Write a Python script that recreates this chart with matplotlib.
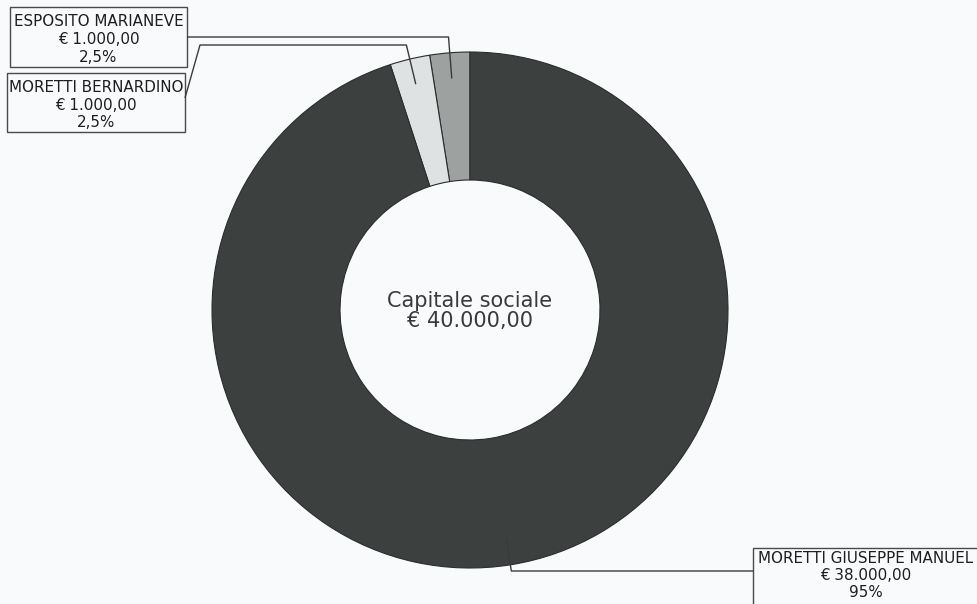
import numpy as np
import matplotlib
matplotlib.use("Agg")
import matplotlib.pyplot as plt
from matplotlib.patches import Rectangle

# ---- data ----
names = ["ESPOSITO MARIANEVE", "MORETTI BERNARDINO", "MORETTI GIUSEPPE MANUEL"]
amounts = [1000.0, 1000.0, 38000.0]
colors = ["#9da2a0", "#dfe2e3", "#3c413f"]
center_title = "Capitale sociale"

def eur(v):
    s = f"{v:,.2f}"
    s = s.replace(",", "X").replace(".", ",").replace("X", ".")
    return "\u20ac " + s

def pct(v):
    return f"{v:g}".replace(".", ",") + "%"

total = sum(amounts)
percents = [a / total * 100 for a in amounts]

# ---- layout (pixel units) ----
W, H = 977, 604
fig = plt.figure(figsize=(W / 100, H / 100), dpi=100)
fig.patch.set_facecolor("#f9fafb")
ax = fig.add_axes([0, 0, 1, 1])
ax.set_facecolor("#f9fafb")

def Y(y):
    return H - y

cx, cy = 470, 310
R, ring = 258, 128

wedges, _ = ax.pie(amounts, colors=colors, startangle=90, counterclock=True,
                   radius=R, center=(cx, Y(cy)),
                   wedgeprops=dict(width=ring, edgecolor="#2a2d2c", linewidth=0.8))
ax.set_xlim(0, W)
ax.set_ylim(0, H)
ax.set_aspect("equal")
ax.axis("off")

# centre text
ax.text(cx, Y(307), center_title, ha="center", va="baseline",
        fontsize=15, color="#3a3a3a", family="DejaVu Sans")
ax.text(cx, Y(327), eur(total), ha="center", va="baseline",
        fontsize=15, color="#3a3a3a", family="DejaVu Sans")

# label boxes: (left, top, right, bottom), text centre x, baselines
boxes = [
    ((10, 7, 187, 67), 98.5, (26.5, 44.5, 61.5)),
    ((7, 73, 185, 132), 96, (92, 110, 127)),
    ((753, 548, 990, 640), 866, (563, 580, 597)),
]
# leader: elbow y, then path points to box
elbow_y = [37, 45, 571]

line_kw = dict(color="#3a3a3a", linewidth=1.0, solid_capstyle="butt")

for i, w in enumerate(wedges):
    (l, t, r, b), tx, bls = boxes[i]
    ax.add_patch(Rectangle((l, Y(b)), r - l, b - t, fill=False,
                           edgecolor="#4a4a4a", linewidth=1.0, clip_on=True))
    lines = [names[i], eur(amounts[i]), pct(percents[i])]
    for txt, bl in zip(lines, bls):
        ax.text(tx, Y(bl), txt, ha="center", va="baseline",
                fontsize=10.9, color="#1e1e1e", family="DejaVu Sans")

    mid = np.deg2rad((w.theta1 + w.theta2) / 2)
    ar = 0.9 * R
    axp = cx + ar * np.cos(mid)
    ayp = Y(cy) + ar * np.sin(mid)
    ey = Y(elbow_y[i])
    tpar = (ey - ayp) / np.sin(mid)
    ex = axp + tpar * np.cos(mid)
    if i == 0:
        xs = [axp, ex, r]
        ys = [ayp, ey, ey]
    elif i == 1:
        xs = [axp, ex, 200, r]
        ys = [ayp, ey, ey, Y(98)]
    else:
        xs = [axp, ex, l]
        ys = [ayp, ey, ey]
    ax.plot(xs, ys, **line_kw)

fig.savefig("out.png", dpi=100, facecolor=fig.get_facecolor())
